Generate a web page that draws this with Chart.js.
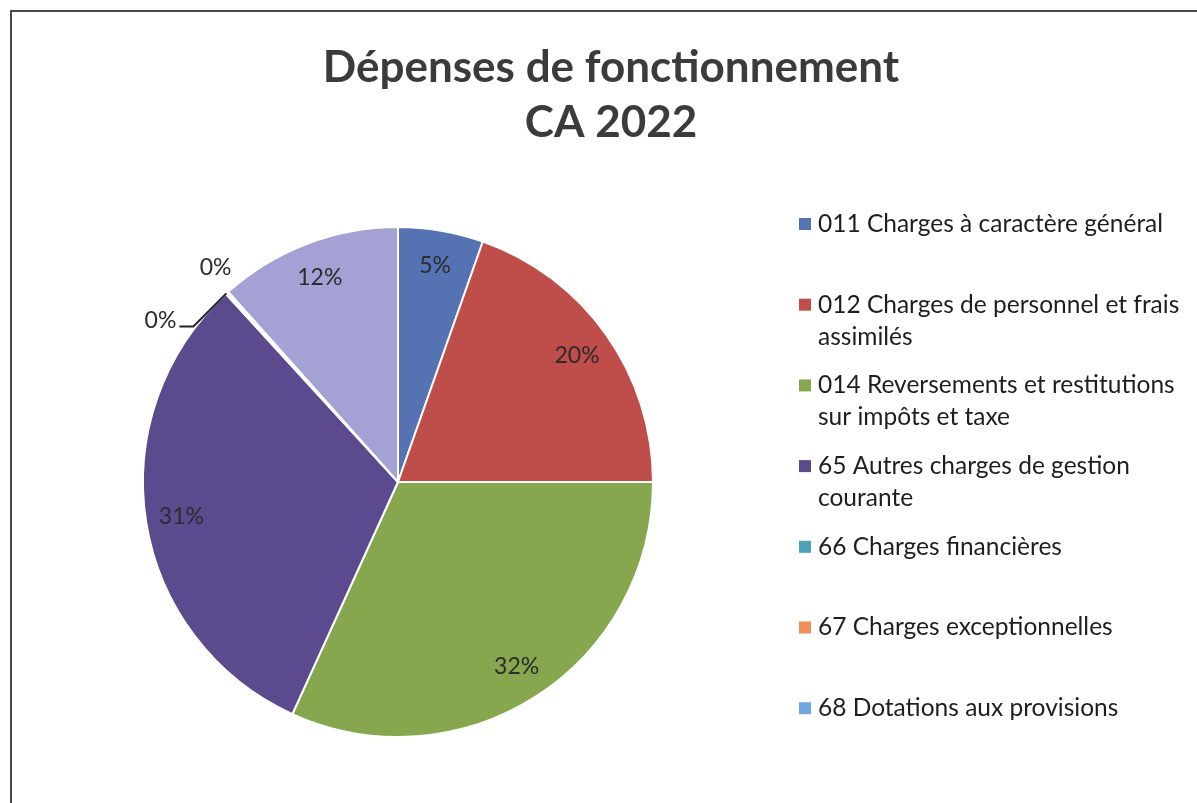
<!DOCTYPE html>
<html>
<head>
<meta charset="utf-8">
<script src="https://cdn.jsdelivr.net/npm/chart.js@4.4.0/dist/chart.umd.min.js"></script>
<style>
  html, body { margin: 0; padding: 0; background: #fff; overflow: hidden; }
  #wrap { position: relative; width: 1197px; height: 803px; }
  #frame { position: absolute; left: 10px; top: 10px; width: 1200px; height: 800px;
           border-left: 2px solid #4a4a4a; border-top: 2px solid #4a4a4a; }
  canvas { position: absolute; left: 0; top: 0; }
</style>
</head>
<body>
<div id="wrap">
  <div id="frame"></div>
  <canvas id="chart" width="1197" height="803"></canvas>
</div>
<script>
var titleLines = ['Dépenses de fonctionnement', 'CA 2022'];

// legend text, split where the original wraps
var categories = [
  ['011 Charges à caractère général'],
  ['012 Charges de personnel et frais', 'assimilés'],
  ['014 Reversements et restitutions', 'sur impôts et taxe'],
  ['65 Autres charges de gestion', 'courante'],
  ['66 Charges financières'],
  ['67 Charges exceptionnelles'],
  ['68 Dotations aux provisions']
];

// share of total (%)
var shares = [5.4, 19.6, 31.8, 31.4, 0.1, 0.1, 11.6];

var sliceColors = ['#5572b3', '#bf4d4a', '#86a74d', '#5b4b8e', '#4ba3b8', '#f28e5b', '#a4a2d5'];
var legendColors = ['#5572b3', '#bf4d4a', '#86a74d', '#5b4b8e', '#4ba3b8', '#f28e5b', '#72a8e2'];

var decor = {
  id: 'decor',
  afterDraw: function(chart) {
    var ctx = chart.ctx;
    var area = chart.chartArea;
    var meta = chart.getDatasetMeta(0);
    var total = shares.reduce(function(a, b) { return a + b; }, 0);

    ctx.save();

    // title
    ctx.fillStyle = '#3b3b3b';
    ctx.font = 'bold 44px Lato';
    ctx.textAlign = 'center';
    ctx.textBaseline = 'alphabetic';
    titleLines.forEach(function(t, i) {
      ctx.fillText(t, 611, 82 + i * 55);
    });

    // legend
    ctx.font = '24.5px Lato';
    ctx.textAlign = 'left';
    ctx.textBaseline = 'middle';
    categories.forEach(function(lines, i) {
      var y = area.top - 2 + i * 80.7;
      ctx.fillStyle = legendColors[i];
      ctx.fillRect(799, y - 6, 12, 12);
      ctx.fillStyle = '#1e1e1e';
      lines.forEach(function(l, j) {
        ctx.fillText(l, 818, y + j * 32);
      });
    });

    // data labels
    ctx.font = '23px Lato';
    ctx.fillStyle = '#2c2c2c';
    ctx.strokeStyle = '#222';
    ctx.lineWidth = 2;
    meta.data.forEach(function(arc, i) {
      var pct = Math.round(shares[i] / total * 100) + '%';
      var mid = (arc.startAngle + arc.endAngle) / 2;
      if (shares[i] / total >= 0.01) {
        var r = arc.outerRadius * 0.86;
        ctx.textAlign = 'center';
        ctx.fillText(pct, arc.x + Math.cos(mid) * r, arc.y + Math.sin(mid) * r);
      } else {
        var ex = arc.x + Math.cos(mid) * arc.outerRadius;
        var ey = arc.y + Math.sin(mid) * arc.outerRadius;
        if (i === 4) {
          ctx.beginPath();
          ctx.moveTo(ex, ey);
          ctx.lineTo(ex - 33, ey + 33);
          ctx.lineTo(ex - 47, ey + 33);
          ctx.stroke();
          ctx.textAlign = 'right';
          ctx.fillText(pct, ex - 50, ey + 27);
        } else {
          ctx.textAlign = 'center';
          ctx.fillText(pct, ex - 12, ey - 25);
        }
      }
    });

    ctx.restore();
  }
};

var ctx = document.getElementById('chart').getContext('2d');
var config = {
  type: 'pie',
  data: {
    labels: categories,
    datasets: [{
      data: shares,
      backgroundColor: sliceColors,
      borderColor: '#ffffff',
      borderWidth: 2
    }]
  },
  options: {
    responsive: false,
    animation: false,
    layout: { padding: { left: 142, right: 543, top: 226, bottom: 65 } },
    plugins: {
      legend: { display: false },
      title: { display: false },
      tooltip: { enabled: false }
    }
  },
  plugins: [decor]
};

var myChart = new Chart(ctx, config);
</script>
</body>
</html>
